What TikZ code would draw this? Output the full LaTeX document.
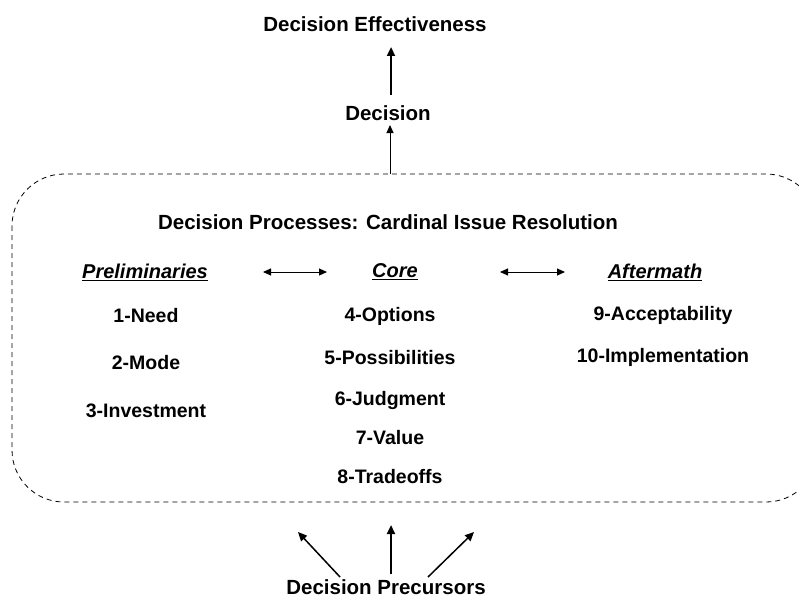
\documentclass[tikz,border=0pt]{standalone}
\usepackage{fontspec}
\setmainfont{Liberation Sans}
\usetikzlibrary{arrows.meta}
\begin{document}
\begin{tikzpicture}[x=1pt,y=-1pt,
  lbl/.style={font=\fontsize{20.5}{24}\selectfont\bfseries, inner sep=0pt, anchor=center},
  item/.style={font=\fontsize{19.5}{22}\selectfont\bfseries, inner sep=0pt, anchor=center},
  head/.style={font=\fontsize{20}{23}\selectfont\bfseries\itshape, inner sep=0pt, anchor=center},
  thick arrow/.style={line width=2.2pt, -{Triangle[length=9pt,width=8pt]}},
  thin arrow/.style={line width=1pt, -{Triangle[length=8pt,width=7pt]}},
  dbl arrow/.style={line width=1pt, {Triangle[length=8pt,width=7pt]}-{Triangle[length=8pt,width=7pt]}},
  frame/.style={line width=0.8pt, dash pattern=on 5pt off 4pt, rounded corners=52pt}]
\useasboundingbox (0,0) rectangle (799,599);
\clip (0,0) rectangle (799,599);

\node[lbl] (eff) at (375,24) {Decision Effectiveness};
\node[lbl] (dec) at (388,113) {Decision};
\coordinate (effb) at (391,47);
\coordinate (decb) at (391,95);
\draw[thick arrow] (decb) -- (effb);

\draw[frame] (12,174) rectangle (818,502);
\coordinate (boxtop) at (390,174);
\coordinate (dect) at (390,125);
\draw[thin arrow] (boxtop) -- (dect);

\node[lbl] (title) at (388,222) {Decision Processes: Cardinal Issue Resolution};

\node[head] (pre) at (145,272) {\underline{Preliminaries}};
\node[head] (core) at (395,272) {\underline{Core}};
\node[head] (aft) at (655,272) {\underline{Aftermath}};
\coordinate (a1l) at (263,272);
\coordinate (a1r) at (327,272);
\coordinate (a2l) at (500,272);
\coordinate (a2r) at (565,272);
\draw[dbl arrow] (a1l) -- (a1r);
\draw[dbl arrow] (a2l) -- (a2r);

\node[item] (i1) at (146,316) {1-Need};
\node[item] (i2) at (146,363) {2-Mode};
\node[item] (i3) at (146,411) {3-Investment};

\node[item] (i4) at (390,316) {4-Options};
\node[item] (i5) at (390,358) {5-Possibilities};
\node[item] (i6) at (390,400) {6-Judgment};
\node[item] (i7) at (390,438) {7-Value};
\node[item] (i8) at (390,477) {8-Tradeoffs};

\node[item] (i9) at (663,315) {9-Acceptability};
\node[item] (i10) at (663,357) {10-Implementation};

\node[lbl] (prec) at (386,587) {Decision Precursors};
\coordinate (t1) at (340,577);
\coordinate (h1) at (298,532);
\coordinate (t2) at (391,574);
\coordinate (h2) at (391,525);
\coordinate (t3) at (428,577);
\coordinate (h3) at (474,532);
\draw[line width=1.5pt, -{Triangle[length=9pt,width=8pt]}] (t1) -- (h1);
\draw[thick arrow] (t2) -- (h2);
\draw[line width=1.5pt, -{Triangle[length=9pt,width=8pt]}] (t3) -- (h3);
\end{tikzpicture}
\end{document}
